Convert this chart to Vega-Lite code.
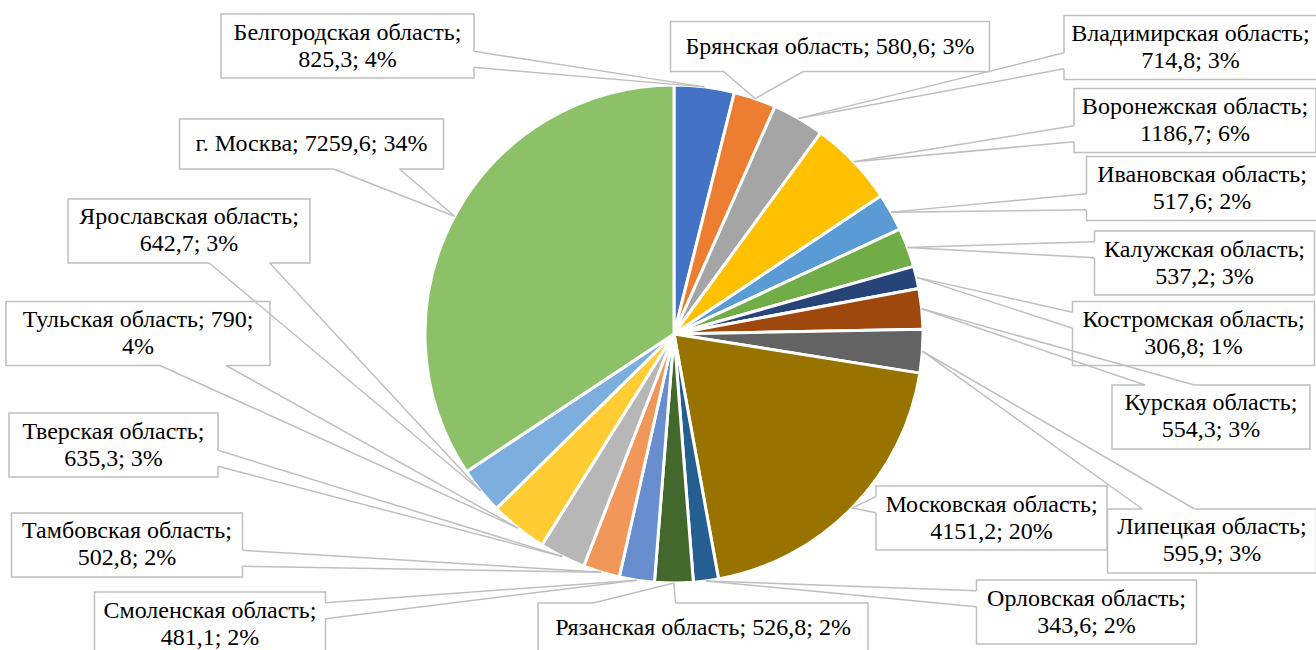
{
  "$schema": "https://vega.github.io/schema/vega-lite/v6.json",
  "width": 1316,
  "height": 650,
  "padding": 0,
  "autosize": "none",
  "background": "white",
  "config": {"view": {"stroke": null}},
  "data": {
    "values": [
      {"idx": 1, "region": "Белгородская область", "value": 825.3, "label": ["Белгородская область;", "825,3; 4%"], "lx": -1.3112, "ly": 1.1566},
      {"idx": 2, "region": "Брянская область", "value": 580.6, "label": ["Брянская область; 580,6; 3%"], "lx": 0.6265, "ly": 1.1546},
      {"idx": 3, "region": "Владимирская область", "value": 714.8, "label": ["Владимирская область;", "714,8; 3%"], "lx": 2.0743, "ly": 1.1506},
      {"idx": 4, "region": "Воронежская область", "value": 1186.7, "label": ["Воронежская область;", "1186,7; 6%"], "lx": 2.0924, "ly": 0.8574},
      {"idx": 5, "region": "Ивановская область", "value": 517.6, "label": ["Ивановская область;", "517,6; 2%"], "lx": 2.1205, "ly": 0.5843},
      {"idx": 6, "region": "Калужская область", "value": 537.2, "label": ["Калужская область;", "537,2; 3%"], "lx": 2.1305, "ly": 0.2851},
      {"idx": 7, "region": "Костромская область", "value": 306.8, "label": ["Костромская область;", "306,8; 1%"], "lx": 2.0863, "ly": 0.002},
      {"idx": 8, "region": "Курская область", "value": 554.3, "label": ["Курская область;", "554,3; 3%"], "lx": 2.1566, "ly": -0.3333},
      {"idx": 9, "region": "Липецкая область", "value": 595.9, "label": ["Липецкая область;", "595,9; 3%"], "lx": 2.1606, "ly": -0.8313},
      {"idx": 10, "region": "Московская область", "value": 4151.2, "label": ["Московская область;", "4151,2; 20%"], "lx": 1.2751, "ly": -0.739},
      {"idx": 11, "region": "Орловская область", "value": 343.6, "label": ["Орловская область;", "343,6; 2%"], "lx": 1.6566, "ly": -1.1165},
      {"idx": 12, "region": "Рязанская область", "value": 526.8, "label": ["Рязанская область; 526,8; 2%"], "lx": 0.1165, "ly": -1.1807},
      {"idx": 13, "region": "Смоленская область", "value": 481.1, "label": ["Смоленская область;", "481,1; 2%"], "lx": -1.8635, "ly": -1.1647},
      {"idx": 14, "region": "Тамбовская область", "value": 502.8, "label": ["Тамбовская область;", "502,8; 2%"], "lx": -2.1968, "ly": -0.8474},
      {"idx": 15, "region": "Тверская область", "value": 635.3, "label": ["Тверская область;", "635,3; 3%"], "lx": -2.251, "ly": -0.4458},
      {"idx": 16, "region": "Тульская область", "value": 790, "label": ["Тульская область; 790;", "4%"], "lx": -2.1526, "ly": 0.002},
      {"idx": 17, "region": "Ярославская область", "value": 642.7, "label": ["Ярославская область;", "642,7; 3%"], "lx": -1.9478, "ly": 0.4137},
      {"idx": 18, "region": "г. Москва", "value": 7259.6, "label": ["г. Москва; 7259,6; 34%"], "lx": -1.4558, "ly": 0.7631}
    ]
  },
  "transform": [
    {"joinaggregate": [{"op": "sum", "field": "value", "as": "total"}]},
    {"window": [{"op": "sum", "field": "value", "as": "cum"}], "sort": [{"field": "idx"}], "frame": [null, 0]},
    {"calculate": "2*PI*(datum.cum - datum.value/2)/datum.total", "as": "mid"},
    {"calculate": "sin(datum.mid)", "as": "tx"},
    {"calculate": "cos(datum.mid)", "as": "ty"},
    {"calculate": "length(datum.label)", "as": "nl"},
    {"calculate": "datum.ly + (datum.nl - 1)*13.5/249", "as": "textY"},
    {"calculate": "(22 + 11*max(length(datum.label[0]), datum.nl > 1 ? length(datum.label[1]) : 0))/249", "as": "bw"},
    {"calculate": "(36 + 14*datum.nl)/249", "as": "bh"},
    {"calculate": "datum.lx - datum.bw/2", "as": "bx1"},
    {"calculate": "datum.lx + datum.bw/2", "as": "bx2"},
    {"calculate": "datum.ly - datum.bh/2", "as": "by1"},
    {"calculate": "datum.ly + datum.bh/2", "as": "by2"},
    {"calculate": "datum.tx - datum.lx", "as": "dxr"},
    {"calculate": "datum.ty - datum.ly", "as": "dyr"},
    {"calculate": "abs(datum.dyr)/datum.bh > abs(datum.dxr)/datum.bw", "as": "vert"},
    {"calculate": "datum.vert ? datum.bx1 + datum.bw*(datum.dxr > 0 ? 7 : 2)/12 : (datum.dxr > 0 ? datum.bx2 : datum.bx1)", "as": "ax"},
    {"calculate": "datum.vert ? (datum.dyr > 0 ? datum.by2 : datum.by1) : datum.by2 - datum.bh*(datum.dyr > 0 ? 2 : 7)/12", "as": "ay"},
    {"calculate": "datum.vert ? datum.bx1 + datum.bw*(datum.dxr > 0 ? 10 : 5)/12 : (datum.dxr > 0 ? datum.bx2 : datum.bx1)", "as": "cx"},
    {"calculate": "datum.vert ? (datum.dyr > 0 ? datum.by2 : datum.by1) : datum.by2 - datum.bh*(datum.dyr > 0 ? 5 : 10)/12", "as": "cy"}
  ],
  "layer": [
    {
      "mark": {"type": "arc", "outerRadius": 249, "stroke": "white", "strokeWidth": 3},
      "encoding": {
        "x": {"datum": 0, "type": "quantitative", "scale": {"domain": [-2.7068, 2.5783], "nice": false, "zero": false}, "axis": null},
        "y": {"datum": 0, "type": "quantitative", "scale": {"domain": [-1.2691, 1.3414], "nice": false, "zero": false}, "axis": null},
        "theta": {"field": "value", "type": "quantitative", "stack": true},
        "order": {"field": "idx", "type": "quantitative"},
        "color": {
          "field": "region",
          "type": "nominal",
          "legend": null,
          "scale": {
            "domain": ["Белгородская область", "Брянская область", "Владимирская область", "Воронежская область", "Ивановская область", "Калужская область", "Костромская область", "Курская область", "Липецкая область", "Московская область", "Орловская область", "Рязанская область", "Смоленская область", "Тамбовская область", "Тверская область", "Тульская область", "Ярославская область", "г. Москва"],
            "range": ["#4472C4", "#ED7D31", "#A5A5A5", "#FFC000", "#5B9BD5", "#70AD47", "#264478", "#9E480E", "#636363", "#997300", "#255E91", "#43682B", "#698ED0", "#F1975A", "#B7B7B7", "#FFCD33", "#7CAFDD", "#8CC168"]
          }
        }
      }
    },
    {
      "mark": {"type": "rect", "fill": "white", "stroke": "#BFBFBF", "strokeWidth": 1.5},
      "encoding": {
        "x": {"field": "bx1", "type": "quantitative", "scale": {"domain": [-2.7068, 2.5783], "nice": false, "zero": false}, "axis": null},
        "x2": {"field": "bx2"},
        "y": {"field": "by1", "type": "quantitative", "scale": {"domain": [-1.2691, 1.3414], "nice": false, "zero": false}, "axis": null},
        "y2": {"field": "by2"}
      }
    },
    {
      "mark": {"type": "rule", "stroke": "white", "strokeWidth": 3},
      "encoding": {
        "x": {"field": "ax", "type": "quantitative", "scale": {"domain": [-2.7068, 2.5783], "nice": false, "zero": false}, "axis": null},
        "x2": {"field": "cx"},
        "y": {"field": "ay", "type": "quantitative", "scale": {"domain": [-1.2691, 1.3414], "nice": false, "zero": false}, "axis": null},
        "y2": {"field": "cy"}
      }
    },
    {
      "mark": {"type": "rule", "stroke": "#BFBFBF", "strokeWidth": 1.5},
      "encoding": {
        "x": {"field": "ax", "type": "quantitative", "scale": {"domain": [-2.7068, 2.5783], "nice": false, "zero": false}, "axis": null},
        "x2": {"field": "tx"},
        "y": {"field": "ay", "type": "quantitative", "scale": {"domain": [-1.2691, 1.3414], "nice": false, "zero": false}, "axis": null},
        "y2": {"field": "ty"}
      }
    },
    {
      "mark": {"type": "rule", "stroke": "#BFBFBF", "strokeWidth": 1.5},
      "encoding": {
        "x": {"field": "cx", "type": "quantitative", "scale": {"domain": [-2.7068, 2.5783], "nice": false, "zero": false}, "axis": null},
        "x2": {"field": "tx"},
        "y": {"field": "cy", "type": "quantitative", "scale": {"domain": [-1.2691, 1.3414], "nice": false, "zero": false}, "axis": null},
        "y2": {"field": "ty"}
      }
    },
    {
      "mark": {"type": "text", "font": "Liberation Serif, Times New Roman, serif", "fontSize": 24, "lineHeight": 27, "align": "center", "baseline": "middle", "color": "black"},
      "encoding": {
        "x": {"field": "lx", "type": "quantitative", "scale": {"domain": [-2.7068, 2.5783], "nice": false, "zero": false}, "axis": null},
        "y": {"field": "textY", "type": "quantitative", "scale": {"domain": [-1.2691, 1.3414], "nice": false, "zero": false}, "axis": null},
        "text": {"field": "label"}
      }
    }
  ]
}
